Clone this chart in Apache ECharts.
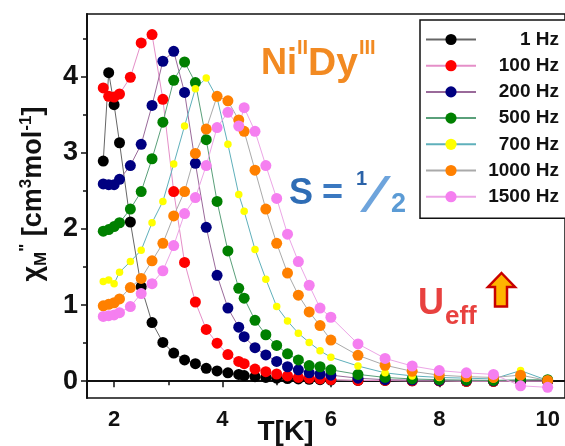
<!DOCTYPE html>
<html>
<head>
<meta charset="utf-8">
<script src="https://cdn.jsdelivr.net/npm/echarts@6/dist/echarts.min.js"></script>
<style>
html,body{margin:0;padding:0;background:#fff;}
#chart{width:565px;height:446px;}
</style>
</head>
<body>
<div id="chart"></div>
<script>
const temperatures = [1.8, 1.9, 2.0, 2.1, 2.3, 2.5, 2.7, 2.9, 3.1, 3.3, 3.5, 3.7, 3.9, 4.1, 4.3, 4.4, 4.6, 4.8, 5.0, 5.2, 5.4, 5.6, 5.8, 6.0, 6.5, 7.0, 7.5, 8.0, 8.5, 9.0, 9.5, 10.0];
const hz1    = [2.89, 4.05, 3.63, 3.13, 2.09, 1.24, 0.77, 0.51, 0.37, 0.28, 0.23, 0.17, 0.135, 0.11, 0.09, 0.075, 0.06, 0.05, 0.04, 0.035, 0.03, 0.025, 0.02, 0.015, 0.01, 0.01, 0.005, 0.005, 0, 0, 0, 0];
const hz100  = [3.85, 3.74, 3.73, 3.77, 3.99, 4.44, 4.55, 3.70, 2.49, 1.56, 1.04, 0.68, 0.50, 0.35, 0.26, 0.23, 0.16, 0.125, 0.095, 0.07, 0.05, 0.04, 0.03, 0.02, 0.01, 0.01, 0.005, 0.005, 0, 0, 0, 0];
const hz200  = [2.59, 2.58, 2.58, 2.65, 2.83, 3.11, 3.62, 4.20, 4.33, 3.79, 2.86, 2.02, 1.39, 0.96, 0.71, 0.585, 0.44, 0.345, 0.26, 0.19, 0.15, 0.11, 0.095, 0.08, 0.04, 0.02, 0.015, 0.01, 0.01, 0.005, 0.005, 0];
const hz500  = [1.97, 1.99, 2.03, 2.08, 2.26, 2.49, 2.92, 3.40, 3.95, 4.19, 3.92, 3.17, 2.36, 1.71, 1.22, 1.09, 0.80, 0.61, 0.47, 0.36, 0.28, 0.205, 0.19, 0.15, 0.09, 0.05, 0.03, 0.02, 0.015, 0.01, 0.02, 0.02];
const hz700  = [1.31, 1.33, 1.28, 1.43, 1.57, 1.72, 2.08, 2.36, 2.85, 3.35, 3.84, 3.98, 3.72, 3.11, 2.45, 2.23, 1.73, 1.34, 0.98, 0.79, 0.63, 0.51, 0.40, 0.315, 0.20, 0.11, 0.07, 0.05, 0.04, 0.03, 0.14, 0.01];
const hz1000 = [0.99, 1.01, 1.03, 1.08, 1.23, 1.35, 1.58, 1.81, 2.17, 2.49, 2.99, 3.31, 3.74, 3.68, 3.43, 3.28, 2.77, 2.26, 1.81, 1.42, 1.13, 0.91, 0.73, 0.54, 0.34, 0.21, 0.13, 0.08, 0.06, 0.05, 0.08, 0.01];
const hz1500 = [0.85, 0.86, 0.87, 0.90, 0.98, 1.15, 1.28, 1.45, 1.78, 2.20, 2.41, 2.83, 3.33, 3.53, 3.35, 3.59, 3.28, 2.83, 2.40, 1.93, 1.57, 1.26, 0.96, 0.84, 0.49, 0.30, 0.20, 0.14, 0.11, 0.09, -0.06, -0.08];

const seriesNames = ['1 Hz', '100 Hz', '200 Hz', '500 Hz', '700 Hz', '1000 Hz', '1500 Hz'];
const seriesValues = [hz1, hz100, hz200, hz500, hz700, hz1000, hz1500];

const xMajorTicks = [2, 4, 6, 8, 10];
const xMinorTicks = [3, 5, 7, 9];
const yMajorTicks = [0, 1, 2, 3, 4];
const yMinorTicks = [0.5, 1.5, 2.5, 3.5, 4.5];

const markerColors = ['#000000', '#ff0000', '#000080', '#008000', '#ffff00', '#ff8000', '#f57ff0'];
const lineColors = ['#666666', '#e58fc8', '#9a6a9a', '#5aa07a', '#5fb0bb', '#aaaaaa', '#eca6e6'];
const markerSizes = [11, 11, 11, 11, 7.5, 11, 11];

const FONT = '"Liberation Sans", Arial, sans-serif';
const X_MIN = 1.5, X_MAX = 10.32, Y_MIN = -0.22, Y_MAX = 4.82;

const chart = echarts.init(document.getElementById('chart'), null, {renderer: 'canvas'});

const series = seriesNames.map((name, i) => ({
  name: name,
  type: 'line',
  data: temperatures.map((t, j) => [t, seriesValues[i][j]]),
  symbol: 'circle',
  symbolSize: markerSizes[i],
  showAllSymbol: true,
  lineStyle: {color: lineColors[i], width: 1},
  itemStyle: {color: markerColors[i]},
  emphasis: {disabled: true},
  animation: false
}));

const option = {
  animation: false,
  backgroundColor: '#ffffff',
  grid: {left: 87, top: 14, right: 0, bottom: 48, show: true, borderColor: '#111', borderWidth: 1.5, backgroundColor: 'transparent', containLabel: false, outerBoundsMode: 'none'},
  xAxis: [{
    type: 'value', min: X_MIN, max: X_MAX,
    splitLine: {show: false},
    axisLine: {lineStyle: {color: '#111', width: 2}},
    axisTick: {customValues: xMajorTicks, length: 6, lineStyle: {color: '#111', width: 1.5}},
    axisLabel: {customValues: xMajorTicks, margin: 11, color: '#111', fontSize: 22, fontWeight: 'bold', fontFamily: FONT},
    name: 'T[K]', nameLocation: 'middle', nameGap: 20, nameMoveOverlap: false,
    nameTextStyle: {color: '#111', fontSize: 28, fontWeight: 'bold', fontFamily: FONT, padding: [0, 81, 0, 0]}
  }, {
    type: 'value', min: X_MIN, max: X_MAX, position: 'bottom',
    splitLine: {show: false},
    axisLine: {show: false},
    axisTick: {customValues: xMinorTicks, length: 4, lineStyle: {color: '#111', width: 1.5}},
    axisLabel: {show: false}
  }],
  yAxis: [{
    type: 'value', min: Y_MIN, max: Y_MAX,
    splitLine: {show: false},
    axisLine: {lineStyle: {color: '#111', width: 2}},
    axisTick: {customValues: yMajorTicks, length: 6, lineStyle: {color: '#111', width: 1.5}},
    axisLabel: {customValues: yMajorTicks, margin: 9, color: '#111', fontSize: 27, fontWeight: 'bold', fontFamily: FONT}
  }, {
    type: 'value', min: Y_MIN, max: Y_MAX, position: 'left',
    splitLine: {show: false},
    axisLine: {show: false},
    axisTick: {customValues: yMinorTicks, length: 4, lineStyle: {color: '#111', width: 1.5}},
    axisLabel: {show: false}
  }],
  legend: {
    orient: 'vertical', left: 420, top: 20,
    padding: [10, 12, 12, 5],
    itemGap: 7.2, itemWidth: 50, itemHeight: 14,
    borderColor: '#111', borderWidth: 1.5, backgroundColor: '#fff',
    selectedMode: false,
    data: seriesNames,
    formatter: '{t|{name}}',
    textStyle: {
      rich: {t: {width: 78, align: 'right', fontSize: 19, fontWeight: 'bold', fontFamily: FONT, color: '#111', lineHeight: 20}}
    }
  },
  graphic: [
    {type: 'text', x: 34, y: 194, rotation: Math.PI / 2,
     style: {
       text: '{a|χ}{sub|M}{sup|"}{a| [cm}{sup|3}{a|mol}{sup|-1}{a|]}',
       align: 'center', verticalAlign: 'middle', fill: '#111',
       rich: {
         a: {font: 'bold 27px ' + FONT, fill: '#111', lineHeight: 32},
         sub: {font: 'bold 17px ' + FONT, fill: '#111', lineHeight: 15, verticalAlign: 'bottom'},
         sup: {font: 'bold 17px ' + FONT, fill: '#111', lineHeight: 15, verticalAlign: 'top'}
       }
     }},

    {type: 'text', style: {text: 'Ni', x: 261, y: 64, font: 'bold 36px ' + FONT, fill: '#f28a22', verticalAlign: 'middle'}},
    {type: 'text', style: {text: 'II', x: 297, y: 48, font: 'bold 20px ' + FONT, fill: '#f28a22', verticalAlign: 'middle'}},
    {type: 'text', style: {text: 'Dy', x: 308, y: 64, font: 'bold 39px ' + FONT, fill: '#f28a22', verticalAlign: 'middle'}},
    {type: 'text', style: {text: 'III', x: 359, y: 48, font: 'bold 20px ' + FONT, fill: '#f28a22', verticalAlign: 'middle'}},

    {type: 'text', style: {text: 'S', x: 289, y: 194, font: 'bold 36px ' + FONT, fill: '#2f6db5', verticalAlign: 'middle'}},
    {type: 'text', style: {text: '=', x: 322, y: 194, font: 'bold 36px ' + FONT, fill: '#3a78c0', verticalAlign: 'middle'}},
    {type: 'text', style: {text: '1', x: 356, y: 179, font: 'bold 20px ' + FONT, fill: '#2a62a8', verticalAlign: 'middle'}},
    {type: 'polygon', shape: {points: [[385, 176], [391, 176], [366, 212], [360, 212]]}, style: {fill: '#6ea4dc'}},
    {type: 'text', style: {text: '2', x: 391, y: 205, font: 'bold 27px ' + FONT, fill: '#5b9bd5', verticalAlign: 'middle'}},

    {type: 'text', style: {text: 'U', x: 418, y: 304, font: 'bold 36px ' + FONT, fill: '#e8413f', verticalAlign: 'middle'}},
    {type: 'text', style: {text: 'eff', x: 445, y: 317, font: 'bold 26px ' + FONT, fill: '#e8413f', verticalAlign: 'middle'}},
    {type: 'polygon', shape: {points: [[501.5, 273], [515, 287], [507, 287], [507, 306.5], [495, 306.5], [495, 287], [488, 287]]},
     style: {fill: '#ffb400', stroke: '#c80000', lineWidth: 2.5, lineJoin: 'miter'}}
  ],
  series: series
};

chart.setOption(option);
</script>
</body>
</html>
